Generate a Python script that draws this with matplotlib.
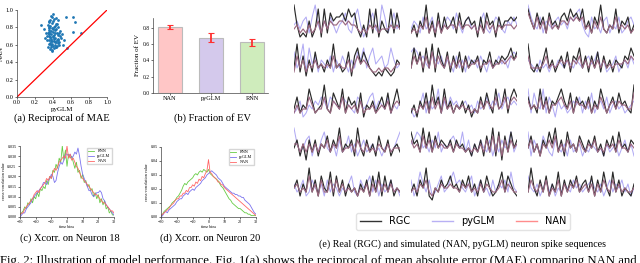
import numpy as np
import matplotlib
matplotlib.use('Agg')
import matplotlib.pyplot as plt
from matplotlib.lines import Line2D

plt.rcParams['font.family'] = 'Liberation Serif'

W, H = 640, 263

# ---- (a) reciprocal of MAE scatter
sx = [0.38, 0.42, 0.35, 0.45, 0.40, 0.37, 0.43, 0.33, 0.47, 0.39,
      0.36, 0.41, 0.44, 0.34, 0.48, 0.38, 0.42, 0.37, 0.45, 0.40,
      0.32, 0.39, 0.43, 0.36, 0.46, 0.41, 0.35, 0.38, 0.44, 0.40,
      0.37, 0.42, 0.34, 0.49, 0.39, 0.36, 0.43, 0.41, 0.38, 0.45,
      0.33, 0.40, 0.47, 0.37, 0.42, 0.35, 0.39, 0.44, 0.36, 0.41,
      0.38, 0.43, 0.40, 0.46, 0.34, 0.39, 0.37, 0.42, 0.45, 0.36,
      0.41, 0.38, 0.50, 0.35, 0.43, 0.39, 0.40, 0.52, 0.37, 0.44,
      0.31, 0.36, 0.42, 0.38, 0.47, 0.40, 0.43, 0.35, 0.39, 0.41,
      0.27, 0.62, 0.64, 0.62, 0.71, 0.55, 0.54, 0.51, 0.30, 0.48]
sy = [0.72, 0.68, 0.80, 0.65, 0.75, 0.62, 0.78, 0.70, 0.60, 0.85,
      0.66, 0.90, 0.73, 0.58, 0.76, 0.64, 0.82, 0.69, 0.88, 0.59,
      0.74, 0.79, 0.63, 0.87, 0.71, 0.67, 0.61, 0.93, 0.84, 0.70,
      0.55, 0.77, 0.83, 0.68, 0.64, 0.72, 0.57, 0.81, 0.76, 0.62,
      0.65, 0.95, 0.74, 0.69, 0.60, 0.86, 0.53, 0.66, 0.79, 0.71,
      0.58, 0.91, 0.78, 0.67, 0.73, 0.61, 0.89, 0.63, 0.80, 0.75,
      0.56, 0.67, 0.72, 0.77, 0.84, 0.54, 0.69, 0.66, 0.82, 0.59,
      0.68, 0.70, 0.73, 0.60, 0.63, 0.87, 0.57, 0.74, 0.92, 0.64,
      0.83, 0.92, 0.86, 0.75, 0.73, 0.56, 0.92, 0.60, 0.78, 0.70]

# ---- (b) fraction of EV
ev_models = ['NAN', 'pyGLM', 'RNN']
ev_values = [0.81, 0.68, 0.62]
ev_errors = [0.03, 0.05, 0.04]
ev_colors = ['#ffc6c6', '#d4c9ec', '#cfecbc']

# ---- (c), (d) cross-correlation (x 0.001)
lags = list(range(-30, 31))
xc18_rnn = [1, 2, 3, 5, 4, 7, 6, 9, 7, 10, 9, 12, 10, 14, 13, 15, 14, 18, 16, 20,
            19, 23, 22, 26, 24, 29, 27, 35, 28, 33, 25, 31, 29, 30, 27, 24, 27, 22, 23, 19,
            21, 17, 18, 15, 16, 13, 14, 10, 12, 9, 11, 7, 9, 6, 8, 4, 5, 2, 3, 1, 1]
xc18_glm = [0, 1, 2, 2, 4, 5, 6, 7, 9, 10, 11, 12, 13, 14, 15, 17, 17, 16, 18, 19,
            21, 20, 17, 18, 22, 25, 27, 26, 28, 31, 31, 30, 31, 29, 30, 32, 31, 34, 30, 25,
            21, 19, 17, 15, 13, 13, 11, 10, 11, 12, 12, 13, 12, 9, 8, 6, 5, 4, 3, 2, 1]
xc18_nan = [1, 2, 2, 4, 5, 6, 7, 8, 9, 11, 12, 13, 12, 14, 15, 16, 17, 19, 18, 20,
            19, 22, 24, 23, 25, 27, 28, 29, 30, 29, 35, 29, 31, 28, 29, 27, 25, 24, 22, 20,
            19, 18, 17, 16, 15, 14, 13, 12, 11, 11, 10, 9, 8, 7, 7, 6, 5, 4, 3, 3, 2]
xc20_rnn = [1, 2, 4, 5, 6, 7, 8, 10, 11, 12, 14, 15, 17, 19, 22, 24, 23, 25, 26, 27,
            28, 30, 31, 30, 32, 33, 32, 34, 33, 32, 34, 31, 30, 29, 28, 27, 26, 24, 22, 21,
            19, 17, 15, 13, 12, 10, 9, 8, 7, 6, 6, 5, 4, 3, 3, 2, 2, 1, 1, 1, 1]
xc20_glm = [0, 1, 3, 4, 3, 5, 6, 7, 8, 9, 11, 12, 13, 13, 15, 16, 17, 16, 18, 19,
            20, 19, 21, 22, 23, 24, 26, 27, 28, 30, 31, 32, 33, 32, 31, 30, 28, 27, 26, 24,
            22, 21, 20, 19, 18, 17, 17, 16, 16, 15, 15, 14, 14, 12, 11, 10, 9, 7, 5, 3, 2]
xc20_nan = [1, 2, 3, 4, 5, 6, 8, 9, 10, 12, 13, 13, 15, 15, 17, 17, 19, 18, 21, 21,
            23, 22, 25, 24, 27, 26, 29, 28, 31, 33, 41, 32, 31, 29, 28, 27, 25, 25, 23, 23,
            21, 20, 19, 18, 17, 16, 15, 14, 13, 12, 11, 10, 9, 8, 7, 6, 5, 4, 3, 2, 1]

# ---- (e) spike sequences, 5 rows x 3 columns
rgc = [
    [9, 4, 1, 2, 1, 5, 1, 3, 8, 1, 8, 2, 7, 5, 6, 6, 7, 5, 8, 6, 7, 3, 1, 4, 1, 8, 2, 8, 1, 5, 3, 2, 8, 2, 7, 3],
    [2, 4, 1, 5, 3, 9, 2, 5, 1, 7, 2, 6, 3, 4, 6, 2, 7, 3, 5, 6, 4, 5, 1, 6, 2, 7, 4, 5, 1, 6, 3, 5, 5, 6, 5, 6],
    [8, 5, 3, 7, 4, 6, 2, 7, 4, 5, 3, 6, 7, 5, 8, 6, 7, 5, 8, 3, 5, 2, 6, 4, 9, 3, 2, 4, 3, 8, 2, 5, 4, 6, 2, 4],
    [3, 9, 2, 6, 1, 5, 2, 7, 3, 4, 2, 5, 3, 9, 3, 4, 2, 3, 7, 1, 6, 8, 4, 7, 5, 3, 2, 1, 2, 1, 3, 2, 1, 2, 5, 4],
    [3, 8, 4, 7, 2, 8, 3, 9, 2, 8, 5, 3, 7, 2, 6, 3, 7, 2, 6, 3, 5, 4, 6, 2, 5, 4, 7, 3, 5, 4, 6, 5, 6, 8, 5, 7],
    [9, 3, 2, 4, 2, 5, 8, 3, 5, 2, 4, 6, 3, 7, 2, 6, 5, 8, 3, 6, 2, 6, 3, 7, 2, 6, 3, 5, 2, 5, 4, 3, 6, 5, 8, 6],
    [3, 6, 2, 4, 3, 8, 5, 2, 3, 4, 9, 3, 2, 7, 5, 3, 8, 2, 6, 4, 5, 2, 7, 1, 4, 3, 5, 2, 4, 6, 3, 7, 2, 5, 8, 4],
    [2, 4, 1, 5, 3, 7, 2, 9, 4, 6, 2, 8, 3, 5, 2, 4, 3, 5, 2, 4, 1, 3, 2, 6, 3, 7, 4, 2, 8, 3, 4, 8, 2, 6, 8, 6],
    [6, 3, 4, 2, 8, 3, 6, 2, 5, 4, 6, 8, 5, 3, 7, 2, 6, 4, 5, 3, 6, 2, 5, 3, 8, 5, 2, 4, 6, 3, 7, 4, 5, 3, 2, 9],
    [4, 6, 2, 5, 1, 6, 3, 6, 2, 5, 4, 7, 3, 6, 4, 9, 3, 5, 4, 6, 2, 9, 4, 2, 6, 3, 5, 2, 7, 4, 3, 6, 2, 4, 5, 3],
    [8, 5, 6, 3, 9, 4, 8, 3, 7, 4, 6, 5, 4, 6, 3, 6, 4, 5, 3, 4, 2, 5, 3, 6, 2, 7, 3, 9, 2, 8, 1, 7, 3, 8, 4, 6],
    [4, 7, 3, 5, 2, 6, 4, 8, 5, 9, 3, 6, 2, 8, 4, 5, 3, 7, 5, 3, 6, 4, 7, 3, 5, 2, 6, 4, 7, 3, 8, 4, 5, 3, 6, 5],
    [4, 6, 2, 5, 3, 9, 3, 6, 2, 7, 4, 3, 8, 2, 7, 3, 6, 2, 5, 3, 4, 2, 5, 3, 6, 2, 7, 3, 8, 2, 7, 3, 6, 2, 4, 3],
    [3, 5, 2, 6, 4, 9, 2, 1, 4, 3, 6, 4, 5, 7, 4, 5, 3, 6, 4, 7, 3, 5, 2, 6, 3, 7, 4, 2, 3, 5, 8, 3, 7, 5, 3, 2],
    [3, 9, 4, 2, 6, 3, 7, 2, 5, 3, 8, 2, 6, 3, 6, 4, 7, 3, 5, 6, 3, 7, 2, 6, 3, 8, 4, 2, 8, 3, 6, 2, 4, 3, 2, 5],
]
pyglm = [
    [4, 5, 3, 5, 6, 2, 6, 9, 4, 2, 5, 3, 6, 4, 2, 4, 5, 7, 3, 2, 6, 8, 4, 1, 3, 5, 7, 3, 2, 9, 6, 2, 4, 7, 3, 5],
    [3, 5, 4, 2, 6, 3, 4, 6, 2, 5, 3, 4, 6, 5, 3, 7, 4, 2, 5, 6, 3, 4, 2, 5, 7, 3, 2, 4, 6, 5, 3, 2, 5, 4, 6, 4],
    [9, 6, 4, 3, 6, 2, 5, 4, 3, 5, 6, 4, 5, 3, 6, 5, 7, 8, 4, 2, 1, 6, 3, 4, 2, 5, 6, 2, 4, 3, 6, 2, 3, 5, 6, 4],
    [7, 3, 5, 9, 2, 8, 4, 6, 2, 5, 4, 3, 6, 2, 5, 3, 6, 4, 2, 5, 3, 7, 5, 8, 3, 6, 8, 4, 5, 6, 3, 4, 8, 5, 3, 4],
    [7, 8, 7, 5, 6, 4, 3, 7, 5, 4, 6, 3, 5, 4, 2, 6, 3, 5, 2, 6, 4, 5, 3, 6, 4, 2, 5, 3, 4, 6, 4, 5, 3, 6, 7, 6],
    [5, 4, 3, 2, 5, 3, 4, 2, 4, 3, 5, 4, 3, 5, 4, 3, 5, 4, 3, 5, 6, 4, 5, 7, 3, 5, 2, 3, 4, 6, 2, 4, 5, 3, 6, 4],
    [2, 3, 5, 1, 2, 4, 3, 5, 4, 6, 5, 3, 6, 5, 4, 3, 6, 5, 4, 3, 2, 6, 5, 3, 4, 6, 7, 3, 5, 4, 3, 6, 2, 4, 3, 5],
    [3, 1, 2, 4, 7, 2, 5, 3, 4, 8, 2, 5, 3, 6, 4, 5, 3, 4, 5, 3, 4, 2, 5, 3, 4, 6, 3, 5, 4, 7, 3, 5, 6, 4, 5, 4],
    [8, 2, 7, 4, 3, 8, 2, 6, 4, 1, 5, 3, 4, 2, 3, 5, 4, 6, 2, 5, 3, 7, 2, 4, 5, 3, 6, 2, 4, 5, 3, 4, 2, 3, 4, 5],
    [9, 5, 3, 4, 6, 7, 2, 5, 3, 6, 8, 4, 3, 5, 2, 6, 3, 4, 7, 3, 5, 2, 4, 6, 3, 4, 5, 3, 4, 2, 4, 5, 3, 4, 6, 8],
    [5, 6, 8, 7, 4, 5, 3, 6, 4, 8, 3, 5, 4, 6, 7, 5, 4, 8, 3, 6, 2, 5, 3, 6, 4, 3, 6, 2, 5, 3, 6, 4, 5, 8, 3, 5],
    [8, 2, 6, 4, 3, 7, 5, 3, 2, 6, 4, 3, 5, 2, 6, 3, 4, 5, 2, 4, 3, 5, 4, 3, 4, 2, 5, 3, 4, 5, 2, 4, 6, 3, 5, 2],
    [5, 3, 4, 6, 2, 3, 6, 4, 3, 5, 2, 6, 3, 5, 4, 2, 4, 3, 5, 7, 3, 2, 6, 4, 5, 7, 3, 6, 2, 5, 3, 4, 6, 3, 4, 2],
    [6, 2, 4, 8, 5, 3, 6, 2, 3, 5, 7, 3, 4, 6, 8, 5, 6, 4, 3, 5, 7, 2, 4, 6, 3, 4, 2, 6, 3, 5, 4, 6, 3, 8, 4, 3],
    [7, 4, 3, 5, 2, 4, 6, 3, 5, 2, 4, 3, 5, 4, 3, 6, 4, 5, 3, 4, 5, 6, 4, 3, 5, 2, 4, 6, 3, 5, 4, 6, 3, 5, 2, 4],
]
nan = [
    [3, 4, 2, 3, 2, 4, 2, 3, 5, 2, 5, 3, 5, 4, 4, 5, 5, 4, 5, 4, 4, 3, 2, 3, 2, 4, 3, 4, 2, 3, 3, 3, 4, 3, 4, 3],
    [2, 3, 2, 4, 3, 6, 2, 4, 2, 5, 2, 4, 3, 4, 4, 3, 5, 3, 4, 4, 3, 4, 2, 4, 2, 5, 3, 4, 2, 4, 3, 4, 4, 4, 3, 4],
    [7, 5, 3, 6, 3, 5, 2, 6, 3, 4, 3, 5, 5, 4, 6, 5, 6, 5, 6, 3, 4, 2, 5, 3, 6, 3, 2, 4, 3, 6, 3, 4, 3, 4, 2, 3],
    [2, 6, 3, 5, 2, 4, 3, 5, 3, 4, 3, 4, 3, 6, 3, 4, 3, 3, 5, 2, 4, 6, 4, 5, 4, 3, 2, 2, 3, 2, 3, 3, 2, 3, 4, 4],
    [3, 6, 4, 6, 3, 6, 3, 7, 3, 6, 4, 3, 6, 3, 5, 3, 5, 3, 5, 3, 4, 4, 5, 3, 4, 4, 5, 3, 4, 4, 5, 4, 5, 6, 5, 6],
    [6, 3, 3, 3, 3, 4, 6, 3, 4, 3, 4, 5, 4, 5, 3, 5, 4, 6, 3, 5, 3, 5, 3, 5, 3, 5, 3, 4, 3, 4, 4, 4, 5, 4, 6, 5],
    [2, 4, 2, 3, 3, 6, 4, 2, 3, 3, 6, 3, 2, 5, 4, 3, 6, 2, 4, 3, 4, 2, 5, 2, 3, 3, 4, 2, 3, 4, 3, 5, 2, 4, 5, 4],
    [3, 3, 2, 4, 3, 5, 2, 6, 3, 5, 2, 6, 3, 4, 2, 4, 3, 4, 3, 3, 2, 3, 2, 5, 3, 5, 4, 3, 6, 3, 4, 6, 3, 5, 6, 5],
    [5, 3, 4, 3, 6, 3, 5, 2, 4, 4, 5, 6, 4, 3, 5, 2, 5, 4, 4, 3, 5, 2, 4, 3, 6, 4, 2, 4, 5, 3, 5, 4, 4, 3, 3, 7],
    [5, 5, 3, 5, 3, 5, 3, 5, 3, 5, 4, 6, 3, 5, 4, 7, 3, 4, 4, 5, 3, 6, 4, 3, 5, 3, 4, 3, 5, 4, 3, 5, 3, 4, 4, 4],
    [6, 4, 5, 3, 7, 4, 6, 3, 6, 4, 5, 4, 4, 5, 3, 5, 4, 4, 3, 4, 3, 4, 3, 5, 3, 6, 3, 7, 3, 7, 2, 6, 3, 6, 4, 5],
    [4, 6, 3, 5, 2, 5, 4, 6, 4, 7, 3, 5, 3, 6, 4, 5, 3, 6, 4, 3, 5, 4, 6, 3, 4, 3, 5, 4, 5, 3, 6, 4, 4, 3, 5, 4],
    [4, 5, 3, 4, 3, 7, 3, 5, 2, 6, 3, 3, 6, 3, 6, 3, 5, 3, 4, 3, 4, 2, 4, 3, 5, 2, 5, 3, 6, 3, 5, 3, 5, 3, 4, 3],
    [3, 4, 3, 5, 4, 6, 3, 2, 4, 3, 5, 4, 4, 5, 4, 4, 3, 5, 4, 5, 3, 4, 3, 5, 3, 5, 4, 3, 3, 4, 6, 3, 5, 4, 3, 3],
    [3, 6, 4, 3, 5, 3, 6, 2, 4, 3, 6, 2, 5, 3, 5, 4, 6, 3, 4, 5, 3, 5, 2, 5, 3, 6, 4, 3, 6, 3, 5, 3, 4, 3, 3, 4],
]

C_RNN = '#66cc44'
C_GLM = '#7b73ee'
C_NAN = '#ff6666'


def px_axes(fig, left, top, width, height):
    return fig.add_axes([left / W, 1 - (top + height) / H, width / W, height / H])


def small_spines(ax, size):
    for s in ['top', 'right']:
        ax.spines[s].set_visible(False)
    for s in ['left', 'bottom']:
        ax.spines[s].set_linewidth(0.5)
        ax.spines[s].set_color('#444444')
    ax.tick_params(labelsize=size, length=1.5, width=0.4, pad=1)


fig = plt.figure(figsize=(W / 100, H / 100), dpi=100)

# (a)
ax = px_axes(fig, 17, 10, 90, 87)
ax.scatter(sx, sy, s=4, color='#1f77b4', linewidths=0)
ax.plot([0, 1], [0, 1], color='red', lw=0.9)
ax.set_xlim(0, 1)
ax.set_ylim(0, 1)
ax.set_xticks(np.arange(0, 1.01, 0.2))
ax.set_yticks(np.arange(0, 1.01, 0.2))
small_spines(ax, 4.5)
ax.set_xlabel('pyGLM', fontsize=5, labelpad=1)
ax.set_ylabel('NAN', fontsize=5, labelpad=1)

# (b)
ax = px_axes(fig, 153, 18, 115, 75)
pos = np.arange(len(ev_models))
ax.bar(pos, ev_values, width=0.6, color=ev_colors, edgecolor='#bbbbbb', linewidth=0.8)
ax.errorbar(pos, ev_values, yerr=ev_errors, fmt='none', ecolor='#ff3030',
            elinewidth=1.3, capsize=2, capthick=0.8)
ax.set_xlim(-0.41, 2.39)
ax.set_ylim(0, 0.92)
ax.set_xticks(pos)
ax.set_xticklabels(ev_models)
ax.set_yticks(np.arange(0, 0.81, 0.2))
small_spines(ax, 4)
ax.tick_params(axis='x', labelsize=4.5)
ax.set_ylabel('Fraction of EV', fontsize=5, labelpad=2)


def xcorr_panel(box, rnn_v, glm_v, nan_v, ymax, ystep):
    ax = px_axes(fig, *box)
    ax.plot(lags, np.array(rnn_v) * 0.001, color=C_RNN, lw=0.6, label='RNN')
    ax.plot(lags, np.array(glm_v) * 0.001, color=C_GLM, lw=0.6, label='pyGLM')
    ax.plot(lags, np.array(nan_v) * 0.001, color=C_NAN, lw=0.6, label='NAN')
    ax.set_xlim(-30, 30)
    ax.set_ylim(0, ymax)
    ax.set_xticks(range(-30, 31, 10))
    ax.set_yticks(np.arange(0, ymax + 1e-9, ystep))
    small_spines(ax, 3)
    ax.set_xlabel('time bins', fontsize=3, labelpad=0.5)
    ax.set_ylabel('cross-correlation value', fontsize=3, labelpad=1)
    ax.legend(loc='upper right', fontsize=3, frameon=True, edgecolor='#cccccc',
              handlelength=1.5, borderpad=0.3, labelspacing=0.2, fancybox=False)
    return ax


xcorr_panel((20, 146, 94, 71), xc18_rnn, xc18_glm, xc18_nan, 0.035, 0.005)
xcorr_panel((161, 147, 95, 70), xc20_rnn, xc20_glm, xc20_nan, 0.05, 0.01)

# (e)
col_left = [294, 411, 528]
row_top = [3, 42, 83, 126, 166]
for i in range(15):
    r, c = divmod(i, 3)
    ax = px_axes(fig, col_left[c], row_top[r], 106, 36)
    ax.plot(np.linspace(0, 1, len(pyglm[i])), pyglm[i], color='#a49cf2', lw=0.75,
            alpha=0.85, solid_joinstyle='round')
    ax.plot(np.linspace(0, 1, len(rgc[i])), rgc[i], color='#2a2a2a', lw=0.85,
            solid_joinstyle='round')
    ax.plot(np.linspace(0, 1, len(nan[i])), nan[i], color='#9a6880', lw=0.85,
            solid_joinstyle='round')
    ax.set_xlim(0, 1)
    ax.set_ylim(0.5, 9.5)
    ax.axis('off')

handles = [Line2D([], [], color='#333333', lw=1),
           Line2D([], [], color='#b8b0f4', lw=1),
           Line2D([], [], color='#ff8c8c', lw=1)]
fig.legend(handles, ['RGC', 'pyGLM', 'NAN'], loc='center',
           bbox_to_anchor=(463 / W, 1 - 221.5 / H), ncol=3, frameon=True,
           edgecolor='#dddddd', handlelength=2.2, columnspacing=2.2,
           borderpad=0.35, prop={'family': 'DejaVu Sans', 'size': 7})

# captions
cap = dict(fontsize=7.5, ha='center', va='center')
fig.text(62 / W, 1 - 118 / H, '(a) Reciprocal of MAE', **cap)
fig.text(213 / W, 1 - 118 / H, '(b) Fraction of EV', **cap)
fig.text(70 / W, 1 - 238 / H, '(c) Xcorr. on Neuron 18', **cap)
fig.text(210 / W, 1 - 238 / H, '(d) Xcorr. on Neuron 20', **cap)
fig.text(319 / W, 1 - 244 / H,
         '(e) Real (RGC) and simulated (NAN, pyGLM) neuron spike sequences',
         fontsize=7.2, ha='left', va='center')
fig.text(0, 1 - 261 / H,
         'Fig. 2: Illustration of model performance. Fig. 1(a) shows the reciprocal '
         'of mean absolute error (MAE) comparing NAN and',
         fontsize=9.2, ha='left', va='center')

fig.savefig('out.png', dpi=100)
